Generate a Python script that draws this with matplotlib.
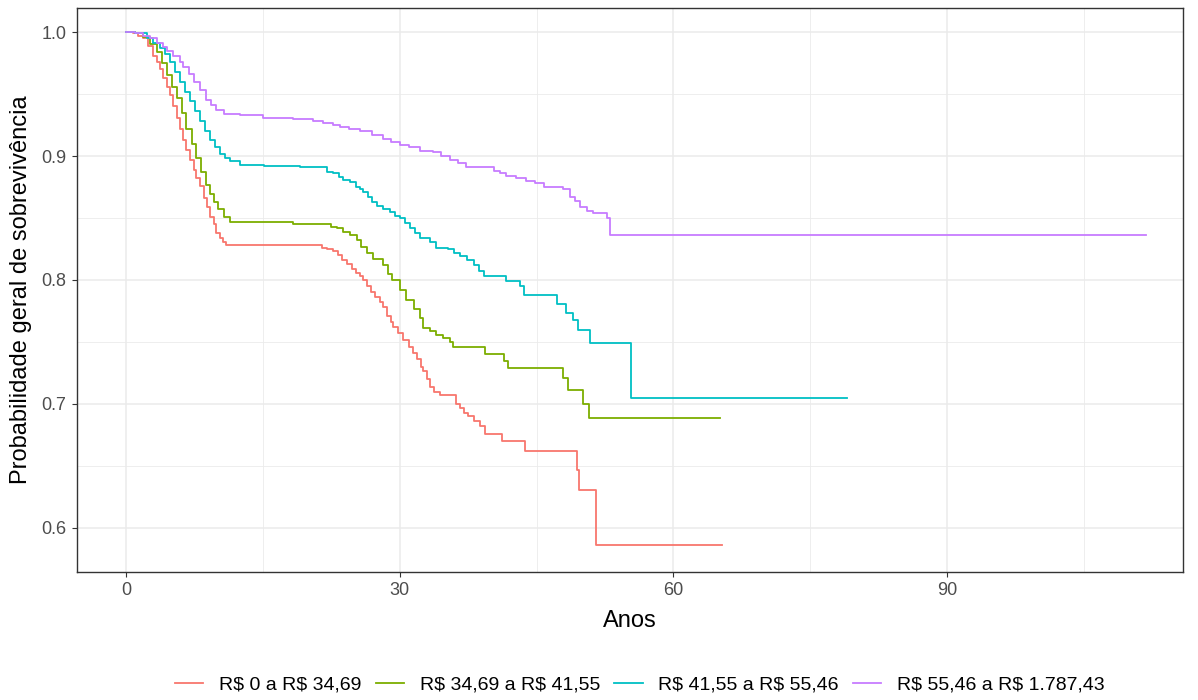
import matplotlib.pyplot as plt
from matplotlib.ticker import MultipleLocator, FuncFormatter

plt.rcParams['font.family'] = ['Liberation Sans', 'DejaVu Sans']

groups = [r"R\$ 0 a R\$ 34,69", r"R\$ 34,69 a R\$ 41,55",
          r"R\$ 41,55 a R\$ 55,46", r"R\$ 55,46 a R\$ 1.787,43"]
colors = ["#F8766D", "#7CAE00", "#00BFC4", "#C77CFF"]

# Kaplan-Meier estimates per income group: time in years, survival probability
t_g1 = [0, 0.8, 1.3, 1.9, 2.4, 3.0, 3.4, 3.7, 4.1, 4.5, 4.8, 5.2, 5.6, 5.9, 6.3, 6.6,
        7.0, 7.4, 7.7, 8.1, 8.5, 8.85, 9.2, 9.6, 9.9, 10.3, 10.6, 11.0,
        21.5, 22.0, 22.7, 23.2, 23.7, 24.2, 24.8, 25.2, 25.7, 26.0, 26.4, 26.9,
        27.3, 27.8, 28.2, 28.6, 29.0, 29.3, 29.8, 30.4, 31.0, 31.5, 31.9, 32.3,
        32.6, 33.0, 33.3, 33.8, 34.4, 36.2, 36.6, 37.0, 37.5, 38.1, 38.8, 39.4,
        41.2, 43.75, 49.4, 49.7, 51.5, 65.3]
s_g1 = [1.0, 0.999, 0.997, 0.995, 0.989, 0.981, 0.976, 0.970, 0.963, 0.956, 0.949, 0.940, 0.931, 0.922, 0.913, 0.905,
        0.897, 0.889, 0.882, 0.876, 0.866, 0.859, 0.851, 0.845, 0.838, 0.834, 0.831, 0.828,
        0.826, 0.825, 0.823, 0.820, 0.816, 0.813, 0.809, 0.806, 0.803, 0.800, 0.795, 0.790,
        0.786, 0.782, 0.778, 0.771, 0.766, 0.762, 0.757, 0.752, 0.746, 0.741, 0.736, 0.730,
        0.727, 0.720, 0.714, 0.710, 0.707, 0.700, 0.697, 0.693, 0.690, 0.686, 0.682, 0.676,
        0.670, 0.662, 0.647, 0.631, 0.586, 0.586]

t_g2 = [0, 1.0, 1.9, 2.6, 3.4, 3.9, 4.5, 5.0, 5.6, 6.1, 6.6, 7.2, 7.7, 8.2, 8.8, 9.2,
        9.6, 10.1, 10.7, 11.4, 18.3, 22.5, 23.1, 23.8, 24.6, 25.3, 25.8, 26.4, 27.1,
        28.2, 28.7, 29.2, 30.0, 30.7, 31.6, 32.2, 32.6, 33.3, 34.0, 34.8, 35.5, 35.8,
        39.4, 41.4, 41.9, 47.9, 48.4, 50.1, 50.7, 65.1]
s_g2 = [1.0, 0.999, 0.996, 0.990, 0.984, 0.975, 0.965, 0.956, 0.947, 0.935, 0.922, 0.910, 0.898, 0.887, 0.877, 0.869,
        0.863, 0.857, 0.851, 0.847, 0.845, 0.843, 0.842, 0.839, 0.836, 0.832, 0.827, 0.822, 0.817,
        0.812, 0.805, 0.800, 0.792, 0.784, 0.777, 0.769, 0.761, 0.759, 0.756, 0.753, 0.750, 0.746,
        0.740, 0.735, 0.729, 0.721, 0.711, 0.700, 0.689, 0.689]

t_g3 = [0, 1.0, 2.3, 3.0, 3.7, 4.3, 4.8, 5.4, 5.9, 6.5, 7.0, 7.6, 8.1, 8.7, 9.2, 9.8,
        10.3, 10.8, 11.4, 12.5, 15.1, 19.1, 22.0, 22.7, 23.3, 23.8, 24.6, 25.2, 25.7,
        26.0, 26.5, 27.0, 27.5, 28.2, 28.9, 29.5, 30.0, 30.6, 31.1, 31.7, 32.2, 33.3,
        34.0, 35.3, 36.0, 36.6, 37.4, 38.1, 38.7, 39.2, 41.6, 43.2, 43.6, 47.2, 48.2,
        49.0, 49.6, 50.9, 55.4, 79.0]
s_g3 = [1.0, 0.999, 0.995, 0.991, 0.987, 0.982, 0.976, 0.968, 0.960, 0.952, 0.944, 0.936, 0.928, 0.920, 0.913, 0.907,
        0.902, 0.898, 0.896, 0.893, 0.892, 0.891, 0.887, 0.886, 0.883, 0.881, 0.879, 0.875, 0.873,
        0.871, 0.867, 0.863, 0.860, 0.857, 0.855, 0.852, 0.850, 0.846, 0.842, 0.838, 0.834, 0.831,
        0.826, 0.825, 0.822, 0.819, 0.816, 0.812, 0.807, 0.803, 0.799, 0.795, 0.788, 0.781, 0.773,
        0.768, 0.760, 0.749, 0.705, 0.705]

t_g4 = [0, 1.0, 1.9, 2.6, 3.4, 4.0, 4.5, 5.2, 5.9, 6.3, 6.9, 7.4, 8.1, 8.8, 9.3, 9.9,
        10.7, 12.5, 15.0, 18.3, 20.5, 21.6, 22.7, 23.5, 24.4, 25.7, 27.0, 28.2, 29.0,
        30.0, 31.0, 32.2, 33.7, 34.5, 35.5, 36.4, 37.3, 40.3, 41.0, 41.7, 42.8, 43.9,
        44.8, 45.8, 47.9, 48.7, 49.2, 49.8, 50.5, 51.2, 52.7, 53.0, 111.8]
s_g4 = [1.0, 0.999, 0.997, 0.995, 0.991, 0.988, 0.985, 0.981, 0.976, 0.972, 0.966, 0.960, 0.953, 0.945, 0.941, 0.937,
        0.934, 0.933, 0.931, 0.930, 0.928, 0.927, 0.925, 0.923, 0.922, 0.920, 0.917, 0.914, 0.911,
        0.909, 0.907, 0.904, 0.903, 0.900, 0.897, 0.894, 0.891, 0.888, 0.886, 0.884, 0.882, 0.880,
        0.878, 0.875, 0.873, 0.867, 0.864, 0.859, 0.856, 0.854, 0.850, 0.836, 0.836]

times = [t_g1, t_g2, t_g3, t_g4]
surv = [s_g1, s_g2, s_g3, s_g4]

fig = plt.figure(figsize=(11.98, 7.0), dpi=100)
ax = fig.add_axes([0.0643, 0.1829, 0.9232, 0.8057])

for t, s, c, lab in zip(times, surv, colors, groups):
    ax.plot(t, s, drawstyle='steps-post', color=c, lw=1.3, label=lab)

ax.set_xlim(-5.37, 115.87)
ax.set_ylim(0.5645, 1.0194)
ax.xaxis.set_major_locator(MultipleLocator(30))
ax.xaxis.set_minor_locator(MultipleLocator(15))
ax.yaxis.set_major_locator(MultipleLocator(0.1))
ax.yaxis.set_minor_locator(MultipleLocator(0.05))
ax.yaxis.set_major_formatter(FuncFormatter(lambda v, p: f"{v:.1f}"))

ax.grid(which='major', color='#EBEBEB', lw=1.1)
ax.grid(which='minor', color='#EBEBEB', lw=0.6)
ax.set_axisbelow(True)
for sp in ax.spines.values():
    sp.set_color('#333333')
    sp.set_linewidth(1.0)
ax.tick_params(which='major', length=3.5, color='#333333', labelsize=13,
               labelcolor='#4D4D4D', pad=4)
ax.tick_params(which='minor', length=0)

ax.set_xlabel("Anos", fontsize=17, labelpad=8)
ax.set_ylabel("Probabilidade geral de sobrevivência", fontsize=17, labelpad=7)

fig.legend(loc='center', bbox_to_anchor=(640 / 1198, 1 - 685 / 700), ncol=4,
           frameon=False, fontsize=14, handlelength=1.45, columnspacing=0.72,
           handletextpad=0.82)

fig.savefig("out.png", dpi=100)
